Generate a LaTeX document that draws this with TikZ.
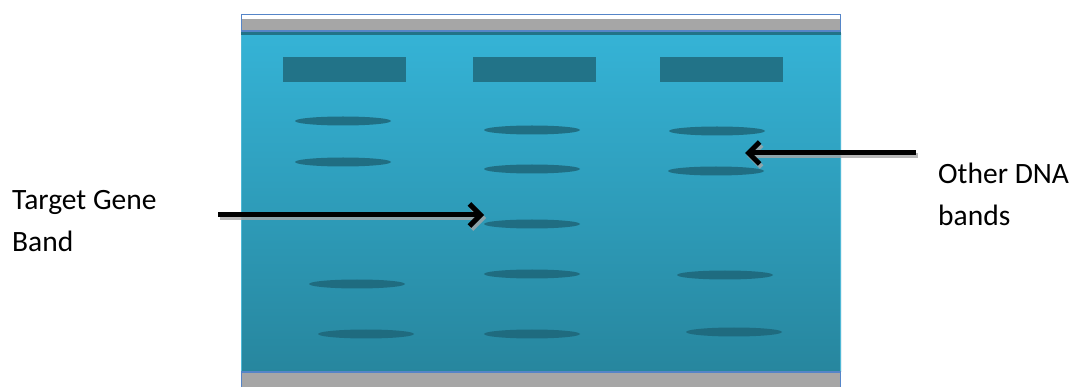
\documentclass[tikz,border=0pt]{standalone}
\usepackage{fontspec}
\setmainfont{Carlito}
\usetikzlibrary{arrows.meta}
\definecolor{geltop}{HTML}{35B3D6}
\definecolor{gelbot}{HTML}{27869E}
\definecolor{well}{HTML}{227388}
\definecolor{bandc}{HTML}{1E6679}
\definecolor{barc}{HTML}{A6A6A6}
\definecolor{framec}{HTML}{5585C8}
\definecolor{edgec}{HTML}{4FB8D6}
\tikzset{
  wellbox/.style={fill=well, draw=none},
  bandell/.style={fill=bandc, draw=none, opacity=0.85},
  pointer/.style={line width=5pt, -{Straight Barb[length=11pt,width=22pt,line width=5pt]}},
  lbl/.style={font=\fontsize{29.5}{42}\selectfont, align=left, inner sep=0pt, anchor=north west},
}
\begin{document}
\begin{tikzpicture}[x=1pt,y=-1pt]
\useasboundingbox (0,0) rectangle (1074,387);
% gel body
\shade[top color=geltop, bottom color=gelbot] (241,34) rectangle (841,372);
\draw[edgec, line width=1.5pt] (241.5,34) -- (241.5,372) (840.5,34) -- (840.5,372);
% top bar
\fill[white] (241,14) rectangle (841,19);
\fill[barc] (241,19) rectangle (841,31);
\fill[well] (241,31) rectangle (841,35);
\draw[framec, line width=1.5pt] (241.5,14.5) rectangle (840.5,31);
% bottom bar
\fill[barc] (241,372) rectangle (841,387);
\draw[framec, line width=1.5pt] (241.5,387) -- (241.5,372) -- (840.5,372) -- (840.5,387);
% wells
\fill[wellbox] (283,57) rectangle (406,82);
\fill[wellbox] (473,57) rectangle (596,82);
\fill[wellbox] (660,57) rectangle (783,82);
% bands
\foreach \x/\y in {343/121, 343/162, 357/284, 366/334,
                   532/130, 532/169, 532/224, 532/274, 532/334,
                   717/131, 716/171, 725/275, 734/332}
  \fill[bandell] (\x,\y) ellipse [x radius=48, y radius=4.5];
% labels
\node[lbl] (tgt) at (12,190) {Target Gene\\Band};
\node[lbl] (oth) at (938,163) {Other DNA\\bands};
% arrows
\coordinate (a1s) at (218,215);
\coordinate (a1e) at (484,215);
\coordinate (a2s) at (916,153);
\coordinate (a2e) at (745,153);
\draw[pointer, black!35, opacity=0.8] ([shift={(2,3)}]a1s) -- ([shift={(2,3)}]a1e);
\draw[pointer, black!35, opacity=0.8] ([shift={(2,3)}]a2s) -- ([shift={(2,3)}]a2e);
\draw[pointer] (a1s) -- (a1e);
\draw[pointer] (a2s) -- (a2e);
\end{tikzpicture}
\end{document}
